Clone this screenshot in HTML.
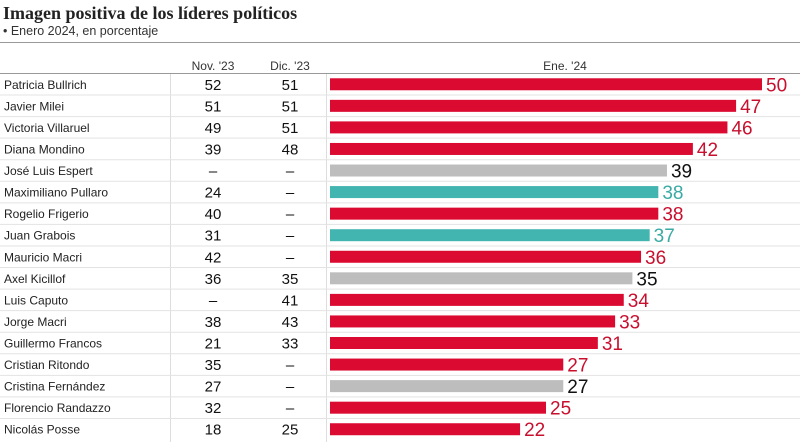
<!DOCTYPE html>
<html><head><meta charset="utf-8"><style>
body{margin:0;background:#fff;width:800px;height:442px;overflow:hidden;font-family:"Liberation Sans",sans-serif;}
</style></head><body>
<svg id="c" width="800" height="442" style="position:absolute;left:0;top:0">
<text x="3" y="19" font-family="Liberation Serif,serif" font-weight="bold" font-size="18" fill="#222">Imagen positiva de los líderes políticos</text>
<text x="3" y="35" font-size="12.5" fill="#333">• Enero 2024, en porcentaje</text>
<line x1="0" y1="42.5" x2="800" y2="42.5" stroke="#999"/>
<text x="213" y="70" text-anchor="middle" font-size="12" fill="#333">Nov. '23</text>
<text x="290" y="70" text-anchor="middle" font-size="12" fill="#333">Dic. '23</text>
<text x="565" y="70" text-anchor="middle" font-size="12" fill="#333">Ene. '24</text>
<line x1="0" y1="73.5" x2="800" y2="73.5" stroke="#999"/>
<line x1="170.5" y1="74" x2="170.5" y2="442" stroke="#ddd"/>
<line x1="326.5" y1="74" x2="326.5" y2="442" stroke="#ddd"/>
<g id="rows"></g>
</svg>
<script>
const names=["Patricia Bullrich","Javier Milei","Victoria Villaruel","Diana Mondino","José Luis Espert","Maximiliano Pullaro","Rogelio Frigerio","Juan Grabois","Mauricio Macri","Axel Kicillof","Luis Caputo","Jorge Macri","Guillermo Francos","Cristian Ritondo","Cristina Fernández","Florencio Randazzo","Nicolás Posse"];
const nov=["52","51","49","39","–","24","40","31","42","36","–","38","21","35","27","32","18"];
const dic=["51","51","51","48","–","–","–","–","–","35","41","43","33","–","–","–","25"];
const ene=[50,47,46,42,39,38,38,37,36,35,34,33,31,27,27,25,22];
const grp=["r","r","r","r","g","t","r","t","r","g","r","r","r","r","g","r","r"];
const fill={r:"#db0a31",g:"#bdbdbd",t:"#43b5b0"};
const txt={r:"#c8102e",g:"#111",t:"#3aaaa5"};
const NS="http://www.w3.org/2000/svg";
const g=document.getElementById("rows");
const x0=330,scale=432/50,y0=73.5,rh=21.56;
function xs(v){return x0+v*scale;}
function mk(tag,a,t){const e=document.createElementNS(NS,tag);for(const k in a)e.setAttribute(k,a[k]);if(t!=null)e.textContent=t;g.appendChild(e);return e;}
names.forEach((n,i)=>{
 const top=y0+i*rh, cy=top+rh/2;
 if(i>0){const l=mk("line",{x1:0,x2:800,y1:top,y2:top,stroke:"#e3e3e3"});
 
 }
 const a=mk("text",{x:4,y:cy+4.5,"font-size":12,fill:"#222"},n);
 
 
 const b=mk("text",{x:213,y:cy+5.5,"text-anchor":"middle","font-size":15,fill:"#111"},nov[i]);
 
 
 const c=mk("text",{x:290,y:cy+5.5,"text-anchor":"middle","font-size":15,fill:"#111"},dic[i]);
 
 
 const r=mk("rect",{x:x0,y:cy-6,width:xs(ene[i])-x0,height:12,fill:fill[grp[i]]});
 
 
 const v=mk("text",{x:xs(ene[i])+4,y:cy+7,"font-size":19,fill:txt[grp[i]],"font-weight":"300"},ene[i]);
 
 
});
</script>
</body></html>
